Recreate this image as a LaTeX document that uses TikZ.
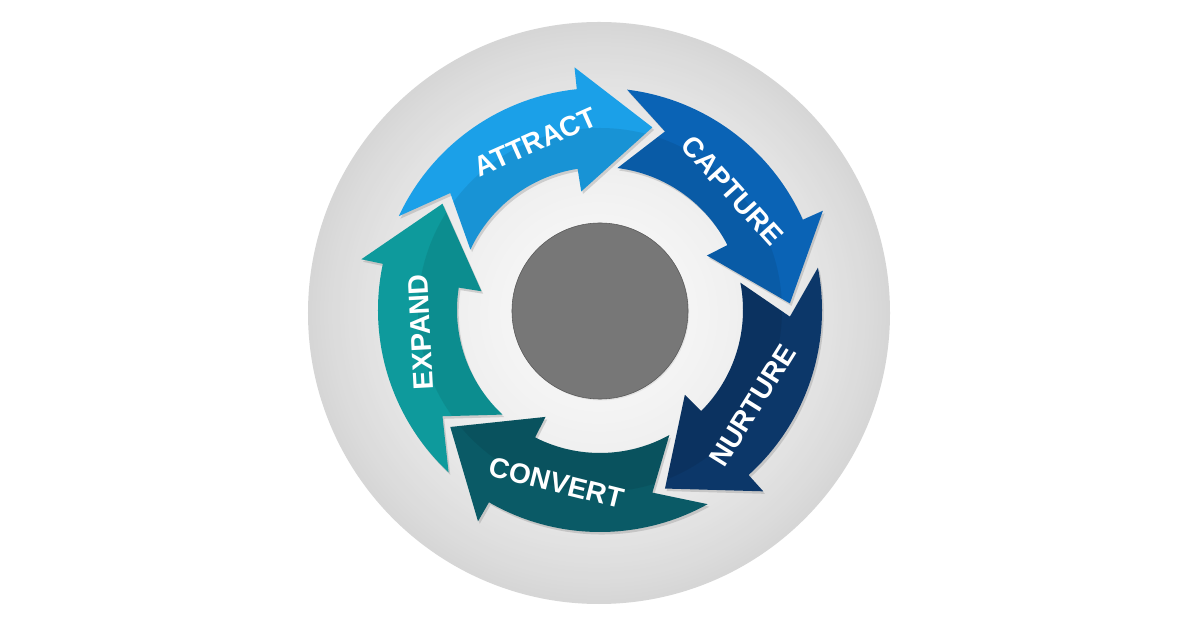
\documentclass[tikz,border=0pt]{standalone}
\usepackage{fontspec}
\setmainfont{Liberation Sans}
\usetikzlibrary{shadows}
\definecolor{attract}{HTML}{1BA0E8}
\definecolor{capture}{HTML}{0A63B5}
\definecolor{nurture}{HTML}{0C3769}
\definecolor{convert}{HTML}{0A5A66}
\definecolor{expand}{HTML}{0E9A9C}
\definecolor{hubgray}{HTML}{777777}
% one curved arrow of the cycle, tail at angle #1, running clockwise
\newcommand{\cyclearrow}[1]{%
  (#1:222) arc[start angle=#1, end angle=#1-59, radius=222]
  -- (#1-59:244) -- (#1-81:190) -- (#1-56:120) -- (#1-56:143)
  arc[start angle=#1-56, end angle=#1, radius=143]
  -- (#1-13:190) -- cycle}
\tikzset{
  steparrow/.style={fill=#1, drop shadow={opacity=.3, shadow xshift=1.2pt, shadow yshift=-1.8pt}},
  steplabel/.style={text=white, inner sep=0pt, font=\bfseries\fontsize{20}{20}\selectfont}
}

\begin{document}
\begin{tikzpicture}[x=0.025cm, y=0.025cm]
  \useasboundingbox[fill=white] (-600,-318) rectangle (600,310);
  % grey disc, darker towards its rim
  \foreach \r in {291,287,...,3} {
    \pgfmathsetmacro\g{97-13*(\r/291)^2}
    \fill[white!\g!black] (-1,-3) circle[radius=\r];
  }
  \foreach \s/\c in {155/attract, 83/capture, 11/nurture, -61/convert, -133/expand} {
    \fill[steparrow=\c] \cyclearrow{\s};
    \begin{scope}
      \clip \cyclearrow{\s};
      \fill[black, opacity=.08] (0,0) circle[radius=182];
    \end{scope}
  }
  \node[circle, fill=hubgray, draw=hubgray!75!black, minimum size=4.4cm, inner sep=0pt,
    drop shadow={opacity=.15, shadow xshift=.8pt, shadow yshift=-1pt}] (hub) at (0,-1) {};
  \node[steplabel, rotate=24] (attract) at (111:180) {ATTRACT};
  \node[steplabel, rotate=-48] (capture) at (42:178) {CAPTURE};
  \node[steplabel, rotate=58] (nurture) at (-32:180) {NURTURE};
  \node[steplabel, rotate=-14] (convert) at (-104:178) {CONVERT};
  \node[steplabel, rotate=93] (expand) at (187:181) {EXPAND};
\end{tikzpicture}
\end{document}
